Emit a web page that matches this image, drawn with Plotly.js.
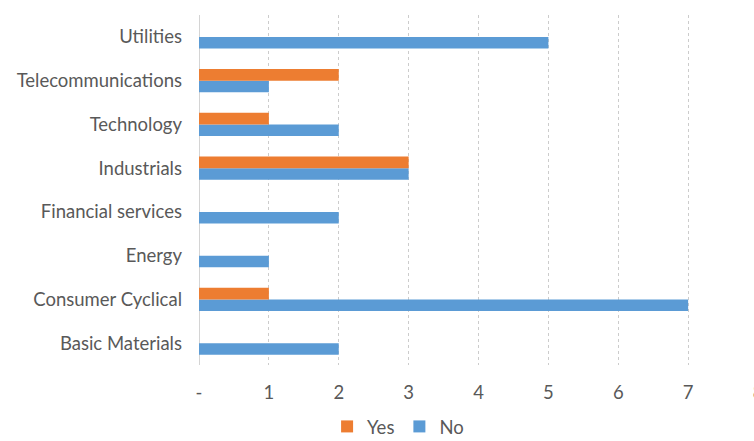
<!DOCTYPE html>
<html>
<head>
<meta charset="utf-8">
<script src="https://cdn.plot.ly/plotly-3.0.1.min.js"></script>
<style>html,body{margin:0;padding:0;overflow:hidden;background:#fff;}</style>
</head>
<body>
<div id="chart"></div>
<script>
const categories = ["Basic Materials", "Consumer Cyclical", "Energy", "Financial services", "Industrials", "Technology", "Telecommunications", "Utilities"];
const yesValues = [0, 1, 0, 0, 3, 1, 2, 0];
const noValues = [2, 7, 1, 2, 3, 2, 1, 5];
const xTickVals = [0, 1, 2, 3, 4, 5, 6, 7, 8];
const xTickText = ["-", "1", "2", "3", "4", "5", "6", "7", "8"];

const fontFam = "Lato, Open Sans, sans-serif";
const data = [
  {type: "bar", orientation: "h", name: "No", y: categories, x: noValues, marker: {color: "#5B9BD5"}},
  {type: "bar", orientation: "h", name: "Yes", y: categories, x: yesValues, marker: {color: "#ED7D31"}}
];
const layout = {
  width: 770, height: 441,
  margin: {l: 199, r: 12, t: 15, b: 76},
  paper_bgcolor: "#fff", plot_bgcolor: "#fff",
  font: {family: fontFam, size: 18.5, color: "#595959"},
  barmode: "group", bargap: 0.47, bargroupgap: 0,
  showlegend: true,
  legend: {orientation: "h", traceorder: "reversed", xref: "container", x: 0.517, xanchor: "center", yref: "container", y: 0.032, yanchor: "middle", font: {size: 18.5, color: "#595959"}, itemwidth: 30, tracegroupgap: 0},
  xaxis: {range: [0, 8], tickvals: xTickVals, ticktext: xTickText, showgrid: true, gridcolor: "#cccccc", griddash: "dot", gridwidth: 1, zeroline: true, zerolinecolor: "#d4d4d4", zerolinewidth: 1, showline: false, ticks: "", ticklabelstandoff: 14, automargin: false, fixedrange: true},
  yaxis: {type: "category", showgrid: false, zeroline: false, showline: false, ticks: "", ticklabelstandoff: 16, automargin: false, fixedrange: true}
};
Plotly.newPlot("chart", data, layout, {displayModeBar: false, staticPlot: true});
</script>
</body>
</html>
